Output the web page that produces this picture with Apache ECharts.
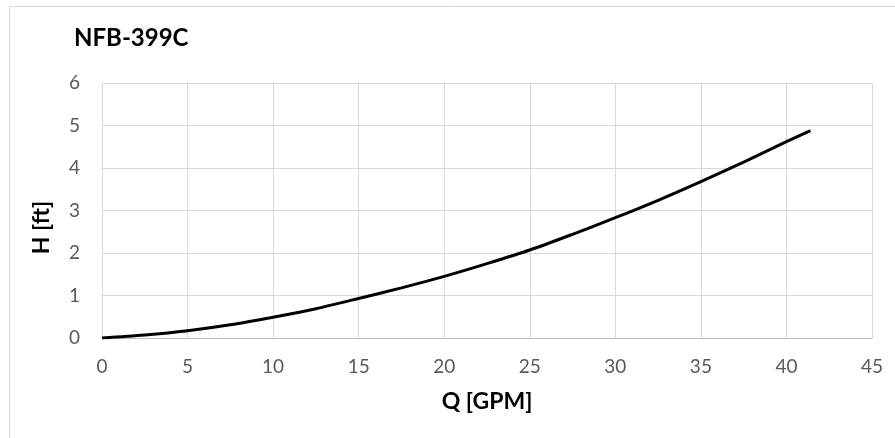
<!DOCTYPE html>
<html>
<head>
<meta charset="utf-8">
<script src="https://cdn.jsdelivr.net/npm/echarts@6/dist/echarts.min.js"></script>
<style>
  html, body { margin: 0; padding: 0; background: #fff; }
  #main { width: 895px; height: 438px; }
</style>
</head>
<body>
<div id="main"></div>
<script>
// pump curve NFB-399C
const qValues = [0, 2.5, 5, 7.5, 10, 12.5, 15, 17.5, 20, 22.5, 25, 27.5, 30, 32.5, 35, 37.5, 40, 41.4];
const hValues = [0, 0.07, 0.17, 0.31, 0.49, 0.69, 0.93, 1.18, 1.45, 1.75, 2.07, 2.44, 2.83, 3.24, 3.68, 4.14, 4.62, 4.88];
const chartTitle = 'NFB-399C';
const xName = 'Q [GPM]';
const yName = 'H [ft]';

const myChart = echarts.init(document.getElementById('main'));

const font = 'Lato, "Open Sans", sans-serif';
const gridColor = '#d9d9d9';

let option = {
    animation: false,
    textStyle: { fontFamily: font },
    title: {
        text: chartTitle,
        left: 69,
        top: 21,
        textStyle: { fontSize: 24, fontWeight: 'bold', color: '#000', fontFamily: font }
    },
    graphic: [{
        type: 'rect',
        silent: true,
        shape: { x: 9.5, y: 6.5, width: 1000, height: 1000 },
        style: { fill: 'none', stroke: gridColor, lineWidth: 1 }
    }],
    grid: { left: 102, right: 23, top: 83, bottom: 100 },
    xAxis: {
        type: 'value',
        min: 0, max: 45, interval: 5,
        name: xName,
        nameLocation: 'middle',
        nameGap: 52,
        nameTextStyle: { fontSize: 23, fontWeight: 'bold', color: '#000' },
        axisLine: { show: true, lineStyle: { color: '#bfbfbf', width: 1 } },
        axisTick: { show: false },
        axisLabel: { fontSize: 19, color: '#595959', margin: 19 },
        splitLine: { show: true, lineStyle: { color: gridColor, width: 1 } }
    },
    yAxis: {
        type: 'value',
        min: 0, max: 6, interval: 1,
        name: yName,
        nameLocation: 'middle',
        nameRotate: 90,
        nameGap: 49,
        nameTextStyle: { fontSize: 23, fontWeight: 'bold', color: '#000', padding: [0, 34, 0, 0] },
        axisLine: { show: false },
        axisTick: { show: false },
        axisLabel: { fontSize: 19, color: '#595959', margin: 22 },
        splitLine: { show: true, lineStyle: { color: gridColor, width: 1 } }
    },
    series: [{
        type: 'line',
        data: qValues.map((q, i) => [q, hValues[i]]),
        smooth: 0.3,
        showSymbol: false,
        lineStyle: { color: '#000', width: 3 }
    }]
};

myChart.setOption(option);
</script>
</body>
</html>
